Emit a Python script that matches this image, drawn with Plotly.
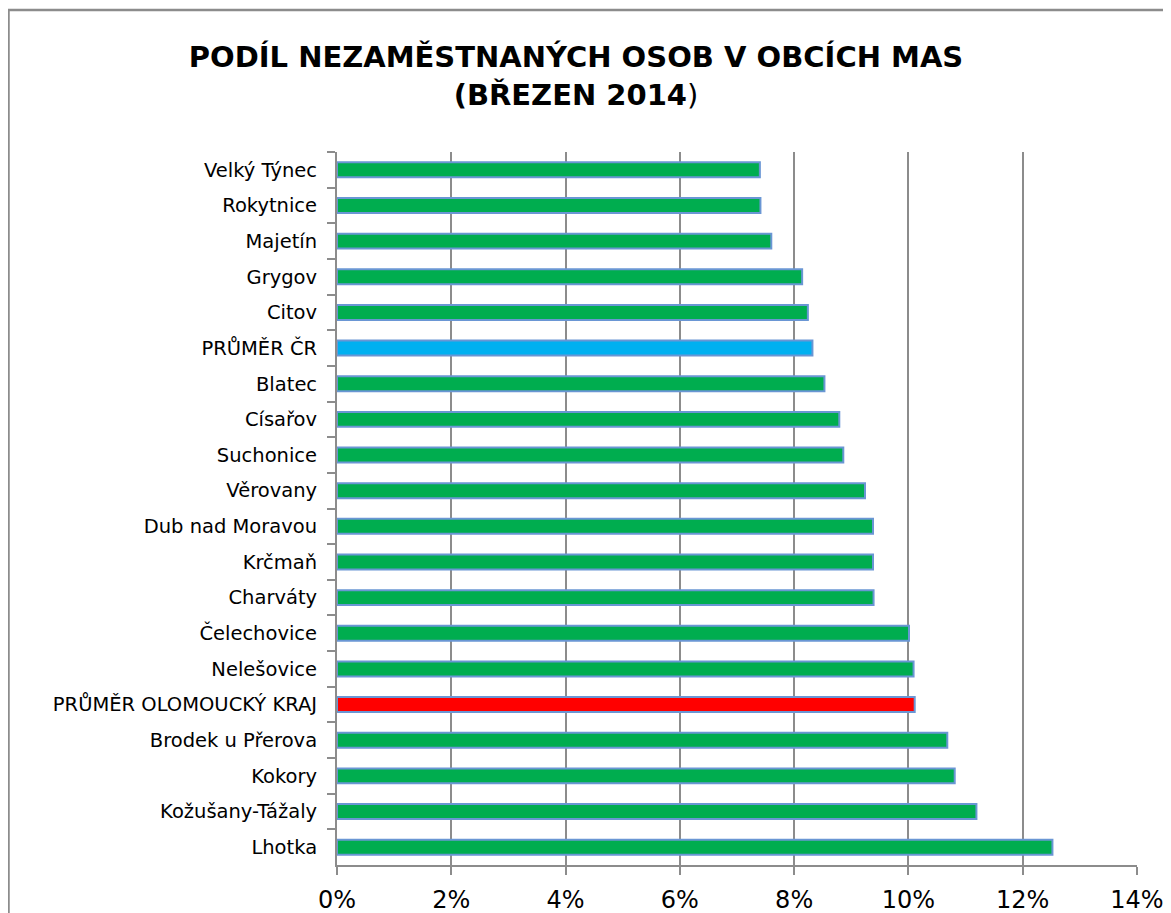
import plotly.graph_objects as go

# categories top to bottom, values in %
obce = ['Velký Týnec', 'Rokytnice', 'Majetín', 'Grygov', 'Citov', 'PRŮMĚR ČR',
        'Blatec', 'Císařov', 'Suchonice', 'Věrovany', 'Dub nad Moravou', 'Krčmaň',
        'Charváty', 'Čelechovice', 'Nelešovice', 'PRŮMĚR OLOMOUCKÝ KRAJ',
        'Brodek u Přerova', 'Kokory', 'Kožušany-Tážaly', 'Lhotka']
podil = [7.40, 7.41, 7.60, 8.14, 8.24, 8.32, 8.53, 8.79, 8.86, 9.24, 9.38, 9.38,
         9.39, 10.01, 10.09, 10.11, 10.68, 10.81, 11.19, 12.52]
xticks = [0, 2, 4, 6, 8, 10, 12, 14]
xlabels = [f'{v}%' for v in xticks]

barvy = []
for o in obce:
    if o == 'PRŮMĚR ČR':
        barvy.append('#00B0F0')
    elif o == 'PRŮMĚR OLOMOUCKÝ KRAJ':
        barvy.append('#FF0000')
    else:
        barvy.append('#00AD4F')

fig = go.Figure()
fig.add_trace(go.Bar(x=podil, y=obce, orientation='h', width=0.42,
                     marker=dict(color=barvy, line=dict(color='#6A96D4', width=2))))

# page has an 8px body margin, so figure coords = page coords - 8
W, H = 1163, 905
ml, mr, mt, mb = 329, 34, 144, 48
pw, ph = W - ml - mr, H - mt - mb
def px(x): return (x - ml) / pw
def py(y): return (H - mb - y) / ph

# outer border of the chart (right and bottom edges run off the picture)
fig.add_shape(type='rect', xref='paper', yref='paper',
              x0=px(0.5), x1=px(1175), y0=py(930), y1=py(2),
              line=dict(color='#8C8C8C', width=2.5), fillcolor='rgba(0,0,0,0)')

fig.update_layout(
    title=dict(text='<b>PODÍL NEZAMĚSTNANÝCH OSOB V OBCÍCH MAS<br>(BŘEZEN 2014</b>)',
               x=568 / W, xanchor='center', y=1 - 59 / H, yanchor='middle',
               font=dict(family='DejaVu Sans', size=29, color='black')),
    width=W, height=H,
    margin=dict(l=ml, r=mr, t=mt, b=mb),
    plot_bgcolor='white', paper_bgcolor='white',
    showlegend=False,
    font=dict(family='DejaVu Sans', color='black'),
    xaxis=dict(range=[0, 14], tickvals=xticks, ticktext=xlabels,
               showgrid=True, gridcolor='#8C8C8C', gridwidth=2,
               showline=True, linecolor='#8C8C8C', linewidth=2,
               ticks='outside', ticklen=8, tickwidth=2, tickcolor='#8C8C8C',
               tickfont=dict(size=24), zeroline=False, automargin=False,
               ticklabelstandoff=4),
    yaxis=dict(autorange='reversed', type='category', tickson='boundaries',
               showline=True, linecolor='#8C8C8C', linewidth=2,
               ticks='outside', ticklen=8, tickwidth=2, tickcolor='#8C8C8C',
               tickfont=dict(size=19.5), showgrid=False, ticklabelstandoff=14,
               automargin=False),
)

fig.write_html('out.html')
